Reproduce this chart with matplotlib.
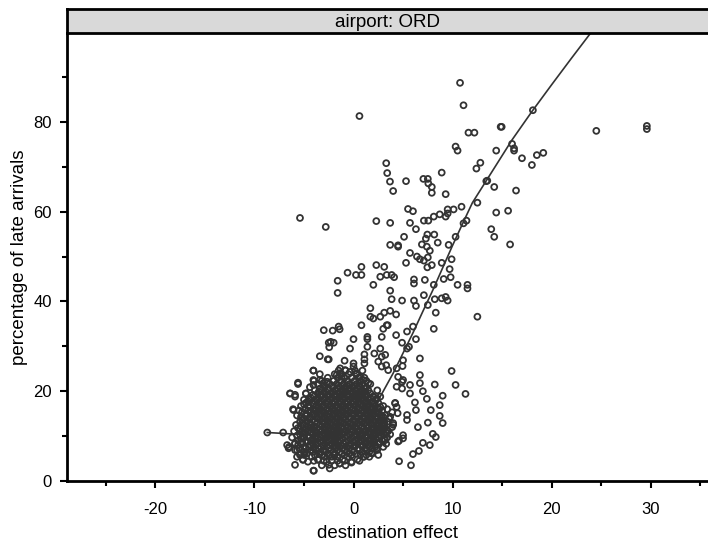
import matplotlib
matplotlib.use("Agg")
import matplotlib.pyplot as plt
import numpy as np

plt.rcParams['font.family'] = ['Liberation Sans', 'DejaVu Sans']

# ---------------- data ----------------
panel_title = "airport: ORD"
x_label = "destination effect"
y_label = "percentage of late arrivals"
x_ticks_major = [-20, -10, 0, 10, 20, 30]
x_ticks_minor = [-25, -15, -5, 5, 15, 25, 35]
y_ticks_major = [0, 20, 40, 60, 80]
y_ticks_minor = [10, 30, 50, 70, 90]

# scattered points outside the dense core
sparse_x = [10.75, 11.1, 14.85, 14.95, 11.6, 12.2, 24.5, 29.6, 29.6, 18.1, 10.3, 10.5,
            16.0, 16.2, 16.2, 14.4, 17.0, 18.0, 18.5, 19.15, 12.4, 12.8, 8.9, 5.3,
            7.05, 7.5, 7.55, 7.9, 7.9, 9.3, 13.4, 13.5, 14.2, 16.4,
            3.68, 4.0, 12.5, 10.9, 9.5, 10.1, 9.5, 9.3, 8.7, 8.1, 14.4, 15.6, 5.5, 6.0,
            2.3, 3.7, 5.7, 7.1, 7.55, 6.3, 11.1, 11.4, 13.9, 14.2, 15.8, 7.45, 8.15, 7.3,
            5.1, 4.5, 4.5, 3.7, 8.5, 9.6, 10.3, 6.9, 7.4, 7.7, 5.7, 6.4, 6.7, 7.1, 7.5,
            5.3, 8.9, 9.9, 7.9, 7.45, 9.7, 2.3, 3.1, 0.8, -0.6, 0.25, 0.8, 2.7, 3.35, 3.85,
            4.1, -1.6, -1.6, 2.0, 6.1, 6.1, 7.2, 8.1, 9.1, 9.8, 10.5, 11.5, 11.5, 3.7, 3.85,
            4.9, 6.1, 7.1, 8.2, 8.9, 9.3, 9.5, 6.3, 7.5, 8.3, 12.5, 1.7, 1.7, 2.0, 2.7, 3.1,
            3.7, 4.3, 0.8, -1.5, -1.4, -2.1, 3.35, 3.45, 6.0, 8.1, 1.4, 1.4, 3.0, 4.3, 2.85,
            5.4, 6.3, 0.0, -2.0, 1.4, 2.7, 4.9, 5.4, 5.6, -0.35,
            -3.4, -2.6, -2.5, -0.9, 0.0, 0.0, 1.1, 1.1, 1.1, 2.1, 2.85, 3.2, 2.5, 2.85, 3.3,
            3.5, 6.7, 5.0, 4.95, 6.7, 6.7, 4.35, 4.5, 5.0, 4.9, 5.7, 5.7, 4.9, 4.35, 4.2,
            4.35, 4.45, 6.3, 5.4, 5.4, 3.7, 4.0, 3.9, 5.0, 5.0, 4.5, 3.2, 2.35, 2.5, 1.8,
            1.05, -0.2, -1.4, -2.5, -4.05, -3.55, -5.1, -5.9, -5.4, -4.9, -5.7, -5.9, -6.7,
            -6.55, -8.7, -7.1, -6.05, -6.4, -5.9, -5.6, -4.8, -4.05, -4.05, -4.05, -3.4,
            -3.05, -2.65, -1.7, -1.35, -1.2, -1.35, -0.85, -0.35, 0.3, 0.65, 1.0, 1.5, 2.0,
            2.35, 2.7, 2.85, 3.0, 3.35, -2.5, -2.3, -2.45,
            0.6, 3.3, 3.4, -5.4, -2.8, -3.0,
            8.3, 9.0, 7.7, 6.6, 8.7, 9.9, 10.3, 7.4, 7.8, 11.3, 4.6, 6.0, 7.0, 8.0, 6.5,
            7.5, 8.7, 6.2, 7.0, 8.2, 9.0, 5.8]
sparse_y = [88.7, 83.7, 78.9, 78.9, 77.6, 77.6, 78.0, 78.4, 79.1, 82.6, 74.5, 73.6,
            75.1, 74.1, 73.6, 73.6, 71.9, 70.4, 72.6, 73.1, 69.6, 70.9, 68.7, 66.8,
            67.3, 67.3, 66.3, 65.5, 64.2, 63.9, 66.8, 66.9, 65.5, 64.7,
            66.7, 64.6, 62.0, 61.1, 60.5, 60.5, 59.6, 58.9, 59.4, 58.9, 59.8, 60.2, 60.6, 60.1,
            57.9, 57.5, 57.5, 58.0, 58.0, 56.1, 57.4, 58.0, 56.1, 54.4, 52.7, 54.9, 54.9, 54.0,
            54.4, 52.5, 52.2, 52.6, 53.1, 52.6, 54.4, 52.7, 52.2, 51.3, 50.8, 50.0, 49.4, 49.1, 49.8,
            48.6, 48.6, 49.4, 48.1, 47.6, 47.2, 48.1, 47.7, 47.7, 46.4, 45.9, 45.9, 45.5, 45.9, 45.9,
            45.4, 44.6, 41.9, 43.7, 44.9, 44.0, 44.8, 43.7, 45.0, 45.4, 43.7, 43.7, 42.9, 42.4, 40.5,
            40.2, 40.2, 41.4, 40.5, 40.7, 41.0, 40.2, 39.0, 39.2, 37.5, 36.6, 38.5, 36.6, 36.2, 36.6, 37.5,
            37.9, 37.1, 34.7, 34.4, 33.8, 33.5, 34.7, 34.7, 34.4, 33.9, 32.1, 31.6, 33.9, 32.5, 32.1,
            33.3, 31.6, 31.6, 30.8, 29.9, 29.5, 30.8, 29.5, 29.9, 29.5,
            27.8, 27.1, 27.1, 26.8, 26.2, 25.5, 28.2, 27.1, 26.2, 28.4, 27.7, 28.1, 26.6, 25.5, 25.8,
            24.7, 27.3, 26.9, 25.6, 23.6, 21.8, 25.1, 23.2, 22.5, 22.1, 21.4, 19.5, 20.6, 21.0, 17.3,
            16.5, 15.1, 15.8, 14.7, 13.6, 14.3, 12.9, 12.0, 10.2, 9.5, 8.8, 9.1, 7.3, 5.8, 6.2,
            5.4, 4.1, 3.9, 3.6, 2.3, 4.7, 4.7, 3.6, 5.8, 6.2, 6.9, 8.4, 8.0,
            7.3, 10.8, 10.8, 15.8, 19.5, 19.2, 21.9, 19.5, 24.6, 22.5, 21.4, 22.5,
            21.8, 22.1, 23.6, 24.0, 23.2, 25.1, 24.7, 24.3, 24.0, 23.2, 22.5, 21.8, 18.8,
            18.4, 16.5, 14.3, 12.9, 11.4, 30.8, 31.0, 29.8,
            81.3, 70.8, 68.6, 58.6, 56.6, 33.6,
            9.8, 12.9, 8.0, 6.7, 16.9, 24.5, 21.4, 18.3, 15.8, 19.4, 4.4, 6.0, 8.5, 10.5, 12.0,
            13.0, 14.5, 17.5, 20.0, 21.5, 19.0, 3.5]

# dense core: y level of each row and the x positions in that row
core_levels = [2.3, 2.8, 3.5, 3.9, 4.3, 4.5, 4.8, 5.4, 5.8, 6.1, 6.5, 6.9, 7.3, 7.6,
               8.0, 8.3, 8.7, 9.0, 9.4, 9.7, 10.1, 10.4, 10.8, 11.1, 11.5, 11.8, 12.2,
               12.5, 12.9, 13.2, 13.6, 13.9, 14.3, 14.6, 15.0, 15.3, 15.7, 16.0, 16.4,
               16.7, 17.1, 17.4, 17.8, 18.1, 18.5, 18.8, 19.2, 19.5, 19.9, 20.2, 20.6,
               20.9, 21.3, 21.6, 22.3, 23.0, 23.8, 24.6]
core_rows = [
    [-4.0],
    [-2.4],
    [-3.2, -1.9, -0.8],
    [-1.4],
    [-0.2, -2.7, -4.6],
    [-4.0, -3.0, -2.2, -1.6, -0.9, 0.6],
    [-3.6, -1.1, 0.4, -5.1],
    [-5.7, -4.2, -2.9, -2.2, -1.6, -0.6, 1.0, 1.6],
    [-5.0, -3.9, -3.2, -2.5, -1.9, -0.9, -0.2, 0.7, 1.3],
    [-5.4, -4.7, -3.5, -2.6, -1.9, -1.2, -0.4, 0.3, 1.9],
    [-5.0, -4.1, -3.3, -2.8, -2.0, -1.4, -0.7, 0.0, 0.9, 1.6],
    [-5.9, -4.3, -3.8, -3.0, -2.3, -1.6, -0.9, -0.1, 0.6, 1.3, 2.4],
    [-5.5, -4.8, -4.0, -3.5, -2.5, -1.8, -1.1, -0.4, 0.5, 1.2, 1.9],
    [-6.5, -5.0, -4.5, -3.3, -2.7, -2.0, -1.4, -0.7, 0.1, 0.9, 1.6, 2.2, 3.0],
    [-5.6, -4.4, -3.8, -3.1, -2.4, -1.9, -1.2, -0.5, 0.2, 0.9, 1.5, 2.2],
    [-5.9, -5.3, -4.1, -3.6, -2.9, -2.2, -1.7, -1.0, -0.3, 0.4, 1.2, 1.8, 2.6, 3.3],
    [-5.2, -4.6, -3.9, -3.3, -2.6, -2.0, -1.5, -0.8, 0.0, 0.6, 1.3, 2.0, 2.6],
    [-5.6, -4.8, -4.3, -3.1, -2.5, -1.9, -1.3, -0.5, 0.2, 0.8, 1.5, 2.1, 2.9, 4.6],
    [-5.3, -4.1, -3.6, -2.9, -2.3, -1.8, -1.1, -0.3, 0.4, 1.0, 1.7, 2.3, 3.1],
    [-6.2, -5.0, -4.5, -3.8, -3.3, -2.7, -2.0, -1.6, -0.9, -0.2, 0.6, 1.2, 1.9, 2.5, 3.4],
    [-5.7, -4.6, -3.8, -3.1, -2.5, -2.0, -1.4, -0.7, 0.0, 0.7, 1.3, 2.0, 2.7],
    [-5.4, -4.9, -4.1, -3.5, -2.9, -2.3, -1.7, -1.1, -0.4, 0.3, 0.9, 1.7, 2.3, 3.1, 3.7],
    [-5.0, -4.3, -3.7, -3.0, -2.7, -2.1, -1.5, -0.9, -0.2, 0.5, 1.2, 2.0, 2.6, 3.3],
    [-6.0, -5.2, -4.6, -3.9, -3.2, -2.5, -2.0, -1.4, -0.7, 0.0, 0.5, 1.1, 1.6, 2.4, 2.9, 3.5],
    [-5.4, -4.8, -4.1, -3.4, -2.8, -2.2, -1.6, -1.0, -0.3, 0.4, 1.0, 1.8, 2.5, 3.0],
    [-5.6, -4.4, -3.7, -3.0, -2.4, -1.8, -1.2, -0.6, 0.2, 0.8, 1.4, 2.0, 2.7, 3.2],
    [-5.3, -4.6, -4.0, -3.2, -2.6, -1.9, -1.2, -0.5, 0.2, 0.9, 1.6, 2.3, 2.9],
    [-5.8, -5.1, -4.3, -3.4, -2.7, -2.1, -1.5, -0.8, -0.1, 0.6, 1.3, 1.9, 2.5, 3.1, 4.0],
    [-5.1, -4.4, -3.7, -3.0, -2.4, -1.7, -1.0, -0.3, 0.4, 1.1, 1.8, 2.5, 3.1],
    [-5.4, -4.7, -3.9, -3.2, -2.6, -1.9, -1.3, -0.6, 0.1, 0.8, 1.5, 2.2, 2.8, 3.4],
    [-5.2, -4.1, -3.4, -2.7, -2.1, -1.4, -0.8, 0.0, 0.7, 1.4, 2.0, 2.7],
    [-5.0, -4.4, -3.6, -2.9, -2.3, -1.6, -1.0, -0.3, 0.4, 1.1, 1.7, 2.4, 3.6],
    [-5.3, -4.4, -3.7, -3.0, -2.4, -1.7, -1.0, -0.4, 0.3, 1.0, 1.7, 2.3, 3.0],
    [-5.7, -4.7, -4.0, -3.3, -2.7, -2.0, -1.3, -0.7, 0.0, 0.7, 1.4, 2.0, 2.7, 3.2],
    [-4.8, -4.0, -3.3, -2.6, -2.0, -1.4, -0.7, 0.0, 0.6, 1.3, 2.0, 2.6],
    [-5.2, -4.3, -3.6, -3.0, -2.3, -1.7, -1.1, -0.4, 0.3, 1.0, 1.6, 2.3, 3.9],
    [-5.5, -4.6, -3.8, -3.2, -2.5, -1.9, -1.2, -0.6, 0.1, 0.8, 1.4, 2.1, 2.9],
    [-6.1, -4.9, -4.0, -3.4, -2.7, -2.1, -1.4, -0.8, -0.1, 0.5, 1.2, 1.9, 2.6, 3.4],
    [-4.4, -3.6, -3.0, -2.3, -1.6, -1.0, -0.3, 0.4, 1.1, 1.8, 2.4],
    [-5.3, -4.6, -3.8, -3.1, -2.4, -1.8, -1.1, -0.5, 0.2, 0.9, 1.5, 2.2, 3.0],
    [-5.0, -4.0, -3.3, -2.6, -2.0, -1.3, -0.7, 0.0, 0.7, 1.4, 2.1],
    [-4.8, -4.2, -3.5, -2.8, -2.1, -1.5, -0.8, -0.2, 0.5, 1.2, 1.8, 2.5, 4.2],
    [-4.6, -3.9, -3.2, -2.6, -1.9, -1.3, -0.6, 0.0, 0.6, 1.3, 1.9],
    [-5.0, -4.4, -3.7, -3.0, -2.4, -1.7, -1.1, -0.4, 0.2, 0.8, 1.5, 2.3],
    [-4.3, -3.6, -2.9, -2.2, -1.5, -0.9, -0.2, 0.4, 1.0, 1.7],
    [-5.9, -4.0, -3.3, -2.6, -1.9, -1.3, -0.6, 0.0, 0.6, 1.2, 2.0, 2.7],
    [-4.1, -3.3, -2.6, -1.9, -1.2, -0.6, 0.1, 0.7, 1.3],
    [-6.4, -4.8, -3.6, -2.9, -2.2, -1.5, -0.9, -0.2, 0.4, 1.0, 1.7],
    [-3.5, -2.8, -2.1, -1.4, -0.8, -0.1, 0.6, 1.2],
    [-3.9, -3.2, -2.5, -1.8, -1.1, -0.5, 0.2, 0.9, 1.5, 2.4],
    [-3.4, -2.6, -1.6, -0.9, -0.3, 0.4, 1.1],
    [-4.4, -2.9, -2.1, -1.4, -0.8, -0.1, 0.6, 1.3],
    [-3.0, -2.2, -1.5, -0.7, 0.0, 0.6],
    [-5.6, -3.6, -2.4, -1.7, -1.0, -0.4, 0.3, 0.9, 1.7],
    [-4.0, -3.2, -2.0, -1.3, -0.6, 0.1, 0.7, 1.3],
    [-2.6, -1.6, -0.9, -0.2, 0.5, 1.1],
    [-3.4, -1.9, -1.2, -0.5, 0.3],
    [-4.05, -1.5, -0.8, 0.15, 0.9],
]

# smooth (loess-like) fitted curve
fit_x = [-8.7, -7.1, -5.0, -3.0, -1.0, 1.0, 2.0, 3.0, 4.0, 5.0, 6.0, 7.0, 8.0, 9.0,
         10.0, 11.0, 12.0, 13.0, 14.0, 16.0, 18.0, 20.0, 22.0, 24.0, 25.0]
fit_y = [10.8, 10.6, 10.3, 10.6, 11.5, 13.5, 16.0, 20.0, 24.0, 28.5, 33.0, 37.8, 42.5,
         47.5, 52.5, 57.3, 62.0, 65.5, 69.0, 76.0, 82.3, 88.3, 94.2, 100.0, 103.0]

# ---------------- build ----------------
core_x = [x for row in core_rows for x in row]
core_y = [lvl for lvl, row in zip(core_levels, core_rows) for _ in row]
all_x = np.array(sparse_x + core_x)
all_y = np.array(sparse_y + core_y)

W, H = 708, 545
fig = plt.figure(figsize=(W / 100, H / 100), dpi=100)
left_px, right_px = 67, 708
bottom_px, top_px = 481, 33
strip_top_px = 9

ax = fig.add_axes([left_px / W, (H - bottom_px) / H, (right_px - left_px) / W,
                   (bottom_px - top_px) / H])
ink = '#333333'
ax.scatter(all_x, all_y, s=18, facecolors='none', edgecolors=ink, linewidths=1.3, zorder=3)
ax.plot(fit_x, fit_y, color=ink, lw=1.2, zorder=4)

ax.set_xlim(-28.91, 35.77)
ax.set_ylim(0, 99.8)
ax.set_xticks(x_ticks_major)
ax.set_xticks(x_ticks_minor, minor=True)
ax.set_yticks(y_ticks_major)
ax.set_yticks(y_ticks_minor, minor=True)
ax.set_xticklabels([str(v) for v in x_ticks_major])
ax.set_yticklabels([str(v) for v in y_ticks_major])
ax.tick_params(which='both', direction='out', width=1.5, colors='black', labelsize=12,
               labelcolor='black')
ax.tick_params(which='major', length=5)
ax.tick_params(which='minor', length=3.5)
ax.tick_params(axis='x', which='major', pad=10)
ax.tick_params(axis='y', which='major', pad=6)
for s in ['top', 'right']:
    ax.spines[s].set_visible(False)
for s in ['left', 'bottom']:
    ax.spines[s].set_linewidth(2.0)
    ax.spines[s].set_color('black')
ax.set_xlabel(x_label, fontsize=13.5, labelpad=6)
ax.set_ylabel(y_label, fontsize=13.5, labelpad=4)

# strip on top
sax = fig.add_axes([left_px / W, (H - top_px) / H, (right_px - left_px) / W + 0.01,
                    (top_px - strip_top_px) / H])
sax.set_facecolor('#d9d9d9')
sax.set_xticks([])
sax.set_yticks([])
for s in sax.spines.values():
    s.set_linewidth(2.0)
    s.set_color('black')
sax.text(0.5 - 0.005, 0.45, panel_title, ha='center', va='center', fontsize=13.5,
         transform=sax.transAxes)

fig.savefig('out.png', dpi=100)
